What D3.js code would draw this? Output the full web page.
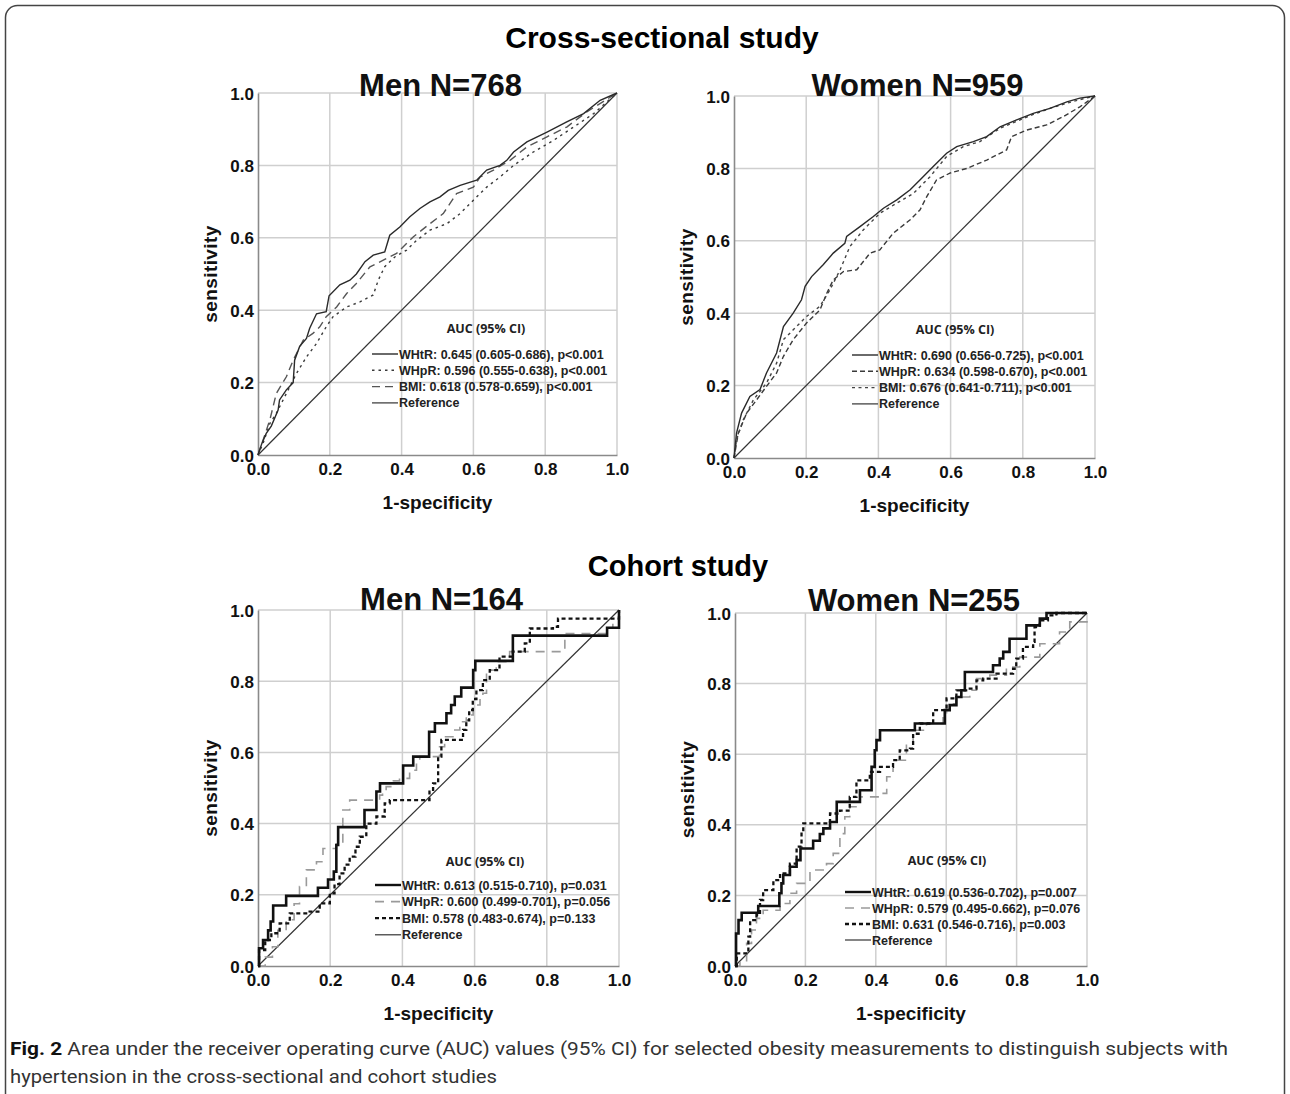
<!DOCTYPE html>
<html>
<head>
<meta charset="utf-8">
<script src="https://cdn.jsdelivr.net/npm/d3@7"></script>
<style>
  html, body { margin: 0; padding: 0; background: #fff; }
  svg { display: block; }
</style>
</head>
<body>
<div id="chart"></div>
<script>
// ROC points, [1-specificity, sensitivity]
const menCrossWHtR = [[0,0],[0.01,0.03],[0.023,0.06],[0.037,0.08],[0.056,0.124],[0.06,0.152],[0.079,0.18],[0.098,0.2],[0.102,0.262],[0.116,0.3],[0.135,0.322],[0.144,0.35],[0.163,0.39],[0.19,0.396],[0.198,0.44],[0.228,0.47],[0.256,0.483],[0.274,0.5],[0.298,0.534],[0.321,0.552],[0.353,0.561],[0.367,0.607],[0.395,0.63],[0.423,0.658],[0.451,0.681],[0.479,0.699],[0.507,0.713],[0.53,0.731],[0.563,0.745],[0.609,0.759],[0.637,0.787],[0.674,0.8],[0.693,0.814],[0.712,0.837],[0.749,0.865],[0.805,0.892],[0.86,0.92],[0.907,0.943],[0.953,0.98],[1,1]];
const menCrossWHpR = [[0,0],[0.014,0.032],[0.033,0.087],[0.051,0.115],[0.079,0.17],[0.107,0.225],[0.135,0.271],[0.163,0.308],[0.19,0.354],[0.209,0.382],[0.247,0.409],[0.284,0.423],[0.321,0.442],[0.335,0.483],[0.353,0.52],[0.381,0.547],[0.414,0.566],[0.442,0.593],[0.479,0.621],[0.526,0.639],[0.563,0.667],[0.6,0.704],[0.637,0.74],[0.674,0.768],[0.712,0.8],[0.767,0.837],[0.823,0.869],[0.879,0.906],[0.935,0.943],[1,1]];
const menCrossBMI = [[0,0],[0.014,0.041],[0.033,0.097],[0.051,0.17],[0.079,0.216],[0.098,0.262],[0.126,0.317],[0.153,0.336],[0.172,0.354],[0.19,0.382],[0.219,0.409],[0.247,0.446],[0.274,0.474],[0.312,0.52],[0.349,0.538],[0.386,0.557],[0.433,0.603],[0.479,0.639],[0.516,0.667],[0.535,0.695],[0.553,0.722],[0.6,0.74],[0.619,0.768],[0.656,0.787],[0.702,0.814],[0.749,0.851],[0.805,0.879],[0.86,0.906],[0.916,0.948],[1,1]];

const womenCrossWHtR = [[0,0],[0.007,0.069],[0.021,0.124],[0.044,0.17],[0.072,0.189],[0.09,0.235],[0.118,0.29],[0.137,0.363],[0.164,0.4],[0.187,0.437],[0.197,0.474],[0.215,0.501],[0.247,0.534],[0.275,0.566],[0.307,0.593],[0.312,0.612],[0.349,0.639],[0.386,0.667],[0.414,0.69],[0.451,0.713],[0.488,0.741],[0.515,0.768],[0.552,0.805],[0.589,0.842],[0.617,0.86],[0.663,0.874],[0.7,0.888],[0.737,0.915],[0.783,0.934],[0.829,0.952],[0.875,0.966],[0.922,0.984],[0.958,0.994],[1,1]];
const womenCrossWHpR = [[0,0],[0.012,0.069],[0.035,0.124],[0.063,0.161],[0.09,0.198],[0.118,0.235],[0.137,0.281],[0.164,0.327],[0.201,0.373],[0.238,0.409],[0.257,0.455],[0.275,0.492],[0.303,0.515],[0.34,0.52],[0.377,0.566],[0.404,0.575],[0.441,0.621],[0.488,0.658],[0.515,0.685],[0.534,0.722],[0.561,0.768],[0.598,0.787],[0.645,0.8],[0.7,0.823],[0.755,0.851],[0.769,0.888],[0.811,0.906],[0.866,0.92],[0.912,0.943],[0.958,0.97],[1,1]];
const womenCrossBMI = [[0,0],[0.007,0.051],[0.026,0.106],[0.054,0.161],[0.09,0.207],[0.118,0.262],[0.137,0.327],[0.164,0.354],[0.201,0.391],[0.238,0.419],[0.266,0.465],[0.294,0.52],[0.321,0.584],[0.358,0.63],[0.404,0.676],[0.451,0.704],[0.497,0.731],[0.543,0.777],[0.589,0.833],[0.635,0.86],[0.681,0.874],[0.737,0.911],[0.783,0.93],[0.829,0.949],[0.875,0.966],[0.922,0.98],[0.958,0.99],[1,1]];

// cohort curves are staircases: each point is where a horizontal run starts
const menCohortWHtR = [[0,0],[0.003,0.05],[0.014,0.073],[0.028,0.1],[0.035,0.125],[0.042,0.17],[0.078,0.197],[0.166,0.22],[0.194,0.243],[0.21,0.265],[0.217,0.34],[0.222,0.39],[0.295,0.438],[0.328,0.49],[0.338,0.513],[0.402,0.563],[0.43,0.588],[0.474,0.658],[0.49,0.682],[0.522,0.71],[0.535,0.733],[0.545,0.757],[0.563,0.782],[0.596,0.831],[0.602,0.857],[0.706,0.928],[0.967,0.95],[1,1]];
const menCohortWHpR = [[0,0],[0.02,0.025],[0.04,0.054],[0.055,0.1],[0.078,0.13],[0.1,0.175],[0.115,0.223],[0.134,0.27],[0.162,0.293],[0.18,0.33],[0.217,0.345],[0.235,0.438],[0.254,0.466],[0.337,0.48],[0.345,0.49],[0.355,0.504],[0.375,0.52],[0.392,0.527],[0.42,0.55],[0.439,0.569],[0.448,0.588],[0.503,0.616],[0.517,0.644],[0.54,0.663],[0.559,0.686],[0.577,0.705],[0.596,0.733],[0.615,0.75],[0.623,0.766],[0.633,0.831],[0.66,0.855],[0.697,0.883],[0.85,0.934],[0.965,0.95],[0.983,0.963],[1,0.98],[1,1]];
const menCohortBMI = [[0,0],[0.003,0.045],[0.02,0.073],[0.037,0.092],[0.06,0.12],[0.088,0.148],[0.143,0.153],[0.171,0.176],[0.199,0.204],[0.212,0.23],[0.226,0.26],[0.24,0.285],[0.254,0.307],[0.27,0.335],[0.282,0.363],[0.3,0.4],[0.328,0.42],[0.351,0.457],[0.365,0.466],[0.475,0.49],[0.485,0.513],[0.499,0.588],[0.508,0.635],[0.568,0.663],[0.577,0.69],[0.585,0.719],[0.595,0.75],[0.605,0.775],[0.623,0.803],[0.642,0.831],[0.669,0.869],[0.706,0.883],[0.739,0.906],[0.753,0.948],[0.817,0.953],[0.831,0.976],[1,1]];

const womenCohortWHtR = [[0,0],[0.003,0.092],[0.01,0.13],[0.019,0.151],[0.066,0.17],[0.126,0.206],[0.132,0.234],[0.137,0.258],[0.156,0.281],[0.175,0.3],[0.186,0.333],[0.222,0.355],[0.241,0.374],[0.251,0.39],[0.27,0.408],[0.289,0.465],[0.355,0.498],[0.388,0.564],[0.397,0.611],[0.402,0.64],[0.412,0.668],[0.511,0.687],[0.596,0.725],[0.61,0.739],[0.629,0.762],[0.643,0.781],[0.653,0.833],[0.733,0.852],[0.752,0.871],[0.762,0.89],[0.78,0.927],[0.828,0.965],[0.866,0.984],[0.885,1],[1,1]];
const womenCohortWHpR = [[0,0],[0.014,0.012],[0.033,0.064],[0.047,0.102],[0.061,0.135],[0.08,0.158],[0.128,0.177],[0.156,0.206],[0.175,0.234],[0.213,0.272],[0.26,0.29],[0.279,0.319],[0.298,0.375],[0.312,0.423],[0.326,0.451],[0.355,0.479],[0.412,0.489],[0.431,0.536],[0.449,0.583],[0.487,0.63],[0.506,0.668],[0.544,0.687],[0.591,0.706],[0.601,0.743],[0.629,0.762],[0.667,0.781],[0.686,0.814],[0.724,0.824],[0.771,0.847],[0.809,0.875],[0.866,0.913],[0.922,0.946],[0.951,0.975],[1,1]];
const womenCohortBMI = [[0,0],[0.005,0.036],[0.033,0.036],[0.038,0.083],[0.043,0.13],[0.061,0.144],[0.071,0.187],[0.08,0.215],[0.109,0.243],[0.128,0.262],[0.156,0.29],[0.175,0.338],[0.189,0.38],[0.194,0.404],[0.241,0.404],[0.27,0.432],[0.298,0.44],[0.326,0.479],[0.345,0.526],[0.383,0.55],[0.412,0.564],[0.449,0.583],[0.468,0.611],[0.497,0.616],[0.506,0.658],[0.525,0.687],[0.563,0.725],[0.601,0.758],[0.629,0.781],[0.667,0.786],[0.686,0.809],[0.705,0.814],[0.743,0.828],[0.79,0.842],[0.799,0.871],[0.818,0.904],[0.847,0.918],[0.851,0.96],[0.866,0.979],[0.889,0.993],[0.913,1],[1,1]];

const referenceLine = [[0,0],[1,1]];
const tickValues = [0, 0.2, 0.4, 0.6, 0.8, 1.0];

const panelTitles = ["Men N=768", "Women N=959", "Men N=164", "Women N=255"];
const sectionTitles = ["Cross-sectional study", "Cohort study"];
const legendHeader = "AUC (95% CI)";
const legendMenCross = ["WHtR: 0.645 (0.605-0.686), p<0.001", "WHpR: 0.596 (0.555-0.638), p<0.001", "BMI: 0.618 (0.578-0.659), p<0.001", "Reference"];
const legendWomenCross = ["WHtR: 0.690 (0.656-0.725), p<0.001", "WHpR: 0.634 (0.598-0.670), p<0.001", "BMI: 0.676 (0.641-0.711), p<0.001", "Reference"];
const legendMenCohort = ["WHtR: 0.613 (0.515-0.710), p=0.031", "WHpR: 0.600 (0.499-0.701), p=0.056", "BMI: 0.578 (0.483-0.674), p=0.133", "Reference"];
const legendWomenCohort = ["WHtR: 0.619 (0.536-0.702), p=0.007", "WHpR: 0.579 (0.495-0.662), p=0.076", "BMI: 0.631 (0.546-0.716), p=0.003", "Reference"];
const captionBold = "Fig. 2";
const captionLine1 = " Area under the receiver operating curve (AUC) values (95% CI) for selected obesity measurements to distinguish subjects with";
const captionLine2 = "hypertension in the cross-sectional and cohort studies";

const W = 1290, H = 1094;
const FONT = "'Liberation Sans', Arial, sans-serif";

// line styles
const refStyle = { stroke: "#333", width: 1.2, dash: null };
const crossMenStyles = [
  { stroke: "#2a2a2a", width: 1.4, dash: null },
  { stroke: "#3a3a3a", width: 1.4, dash: "2.5,4" },
  { stroke: "#555", width: 1.4, dash: "8,5" }
];
const crossWomenStyles = [
  { stroke: "#2a2a2a", width: 1.4, dash: null },
  { stroke: "#3a3a3a", width: 1.4, dash: "5,3" },
  { stroke: "#444", width: 1.4, dash: "3,3.5" }
];
const cohortStyles = [
  { stroke: "#111", width: 2.6, dash: null },
  { stroke: "#9a9a9a", width: 1.6, dash: "9,7" },
  { stroke: "#111", width: 2.3, dash: "4,3" }
];

const panels = [
  { left: 258, right: 617, top: 93, bottom: 455, title: panelTitles[0], titleY: 96,
    series: [menCrossWHtR, menCrossWHpR, menCrossBMI], styles: crossMenStyles, step: false,
    legend: legendMenCross, legX: 114, headX: 228, headY: 235, rowY: 261, rowGap: 16.3 },
  { left: 734, right: 1095, top: 96, bottom: 458, title: panelTitles[1], titleY: 96,
    series: [womenCrossWHtR, womenCrossWHpR, womenCrossBMI], styles: crossWomenStyles, step: false,
    legend: legendWomenCross, legX: 118, headX: 221, headY: 233, rowY: 259, rowGap: 16.3 },
  { left: 258, right: 619, top: 610, bottom: 966, title: panelTitles[2], titleY: 610,
    series: [menCohortWHtR, menCohortWHpR, menCohortBMI], styles: cohortStyles, step: true,
    legend: legendMenCohort, legX: 117, headX: 227, headY: 251, rowY: 275, rowGap: 16.6 },
  { left: 735, right: 1087, top: 613, bottom: 966, title: panelTitles[3], titleY: 611,
    series: [womenCohortWHtR, womenCohortWHpR, womenCohortBMI], styles: cohortStyles, step: true,
    legend: legendWomenCohort, legX: 110, headX: 212, headY: 247, rowY: 279, rowGap: 16 }
];

const svg = d3.select("#chart").append("svg")
  .attr("width", W)
  .attr("height", H)
  .style("font-family", FONT);

svg.append("rect").attr("width", W).attr("height", H).attr("fill", "#fff");

// outer frame of the figure (runs past the bottom edge)
svg.append("rect")
  .attr("x", 5.5).attr("y", 5.5)
  .attr("width", W - 11).attr("height", H + 20)
  .attr("rx", 12)
  .attr("fill", "none")
  .attr("stroke", "#444")
  .attr("stroke-width", 1.5);

// section titles
svg.append("text")
  .attr("x", 662).attr("y", 48)
  .attr("text-anchor", "middle")
  .attr("font-size", 30).attr("font-weight", "bold")
  .text(sectionTitles[0]);

svg.append("text")
  .attr("x", 678).attr("y", 576)
  .attr("text-anchor", "middle")
  .attr("font-size", 29).attr("font-weight", "bold")
  .text(sectionTitles[1]);

function drawPanel(p) {
  const x = d3.scaleLinear().domain([0, 1]).range([p.left, p.right]);
  const y = d3.scaleLinear().domain([0, 1]).range([p.bottom, p.top]);
  const g = svg.append("g");

  // grid
  g.selectAll(".vgrid").data(tickValues.slice(1)).enter().append("line")
    .attr("x1", d => x(d)).attr("x2", d => x(d))
    .attr("y1", p.top).attr("y2", p.bottom)
    .attr("stroke", "#cfcfcf").attr("stroke-width", 1.5);
  g.selectAll(".hgrid").data(tickValues.slice(1)).enter().append("line")
    .attr("x1", p.left).attr("x2", p.right)
    .attr("y1", d => y(d)).attr("y2", d => y(d))
    .attr("stroke", "#cfcfcf").attr("stroke-width", 1.5);

  // axes
  const fmt = d3.format(".1f");
  const xAxis = g.append("g")
    .attr("transform", `translate(0,${p.bottom})`)
    .call(d3.axisBottom(x).tickValues(tickValues).tickFormat(fmt).tickSize(0).tickPadding(8));
  const yAxis = g.append("g")
    .attr("transform", `translate(${p.left},0)`)
    .call(d3.axisLeft(y).tickValues(tickValues).tickFormat(fmt).tickSize(0).tickPadding(4));
  [xAxis, yAxis].forEach(a => {
    a.select(".domain").attr("stroke", "#8a8a8a").attr("stroke-width", 1.6);
    a.selectAll("text")
      .attr("font-family", FONT)
      .attr("font-size", 17).attr("font-weight", "bold").attr("fill", "#111");
  });
  yAxis.selectAll("text").attr("dy", "0.36em");

  // axis titles
  g.append("text")
    .attr("x", (p.left + p.right) / 2).attr("y", p.bottom + 54)
    .attr("text-anchor", "middle")
    .attr("font-size", 19).attr("font-weight", "bold").attr("fill", "#111")
    .text("1-specificity");
  g.append("text")
    .attr("transform", `translate(${p.left - 41},${(p.top + p.bottom) / 2}) rotate(-90)`)
    .attr("text-anchor", "middle")
    .attr("font-size", 19).attr("font-weight", "bold").attr("fill", "#111")
    .attr("letter-spacing", 0.4)
    .text("sensitivity");

  // panel title
  g.append("text")
    .attr("x", (p.left + p.right) / 2 + 3).attr("y", p.titleY)
    .attr("text-anchor", "middle")
    .attr("font-size", 31).attr("font-weight", "bold").attr("fill", "#111")
    .text(p.title);

  // curves
  const line = d3.line()
    .x(d => x(d[0])).y(d => y(d[1]))
    .curve(p.step ? d3.curveStepAfter : d3.curveLinear);
  const refLine = d3.line().x(d => x(d[0])).y(d => y(d[1]));

  g.append("path")
    .attr("d", refLine(referenceLine))
    .attr("fill", "none")
    .attr("stroke", refStyle.stroke).attr("stroke-width", refStyle.width);

  // draw lighter series first so black lines sit on top
  [1, 2, 0].forEach(i => {
    const s = p.styles[i];
    g.append("path")
      .attr("d", line(p.series[i]))
      .attr("fill", "none")
      .attr("stroke", s.stroke)
      .attr("stroke-width", s.width)
      .attr("stroke-dasharray", s.dash)
      .attr("stroke-linejoin", "miter");
  });

  // legend
  const lx = p.left + p.legX;
  g.append("text")
    .attr("x", p.left + p.headX).attr("y", p.top + p.headY + 5)
    .attr("text-anchor", "middle")
    .attr("font-family", "'Open Sans', 'Noto Sans', sans-serif")
    .attr("font-size", 12.5).attr("font-weight", 700).attr("fill", "#222")
    .text(legendHeader);

  const legStyles = p.styles.concat([refStyle]);
  p.legend.forEach((label, i) => {
    const ry = p.top + p.rowY + i * p.rowGap;
    const s = legStyles[i];
    g.append("line")
      .attr("x1", lx).attr("x2", lx + 26)
      .attr("y1", ry).attr("y2", ry)
      .attr("stroke", s.stroke)
      .attr("stroke-width", Math.min(s.width, 2.4))
      .attr("stroke-dasharray", s.dash);
    g.append("text")
      .attr("x", lx + 27).attr("y", ry + 4.5)
      .attr("font-size", 12.5).attr("font-weight", "bold").attr("fill", "#222")
      .text(label);
  });
}

panels.forEach(drawPanel);

// caption
const cap1 = svg.append("text")
  .attr("x", 10).attr("y", 1055)
  .attr("font-family", "'Liberation Sans Narrow', 'Roboto', sans-serif")
  .attr("font-size", 19).attr("fill", "#333")
  .attr("textLength", 1218).attr("lengthAdjust", "spacingAndGlyphs");
cap1.append("tspan").attr("font-weight", "bold").attr("fill", "#111").text(captionBold);
cap1.append("tspan").text(captionLine1);

svg.append("text")
  .attr("x", 10).attr("y", 1083)
  .attr("font-family", "'Liberation Sans Narrow', 'Roboto', sans-serif")
  .attr("font-size", 19).attr("fill", "#333")
  .attr("textLength", 487).attr("lengthAdjust", "spacingAndGlyphs")
  .text(captionLine2);
</script>
</body>
</html>
